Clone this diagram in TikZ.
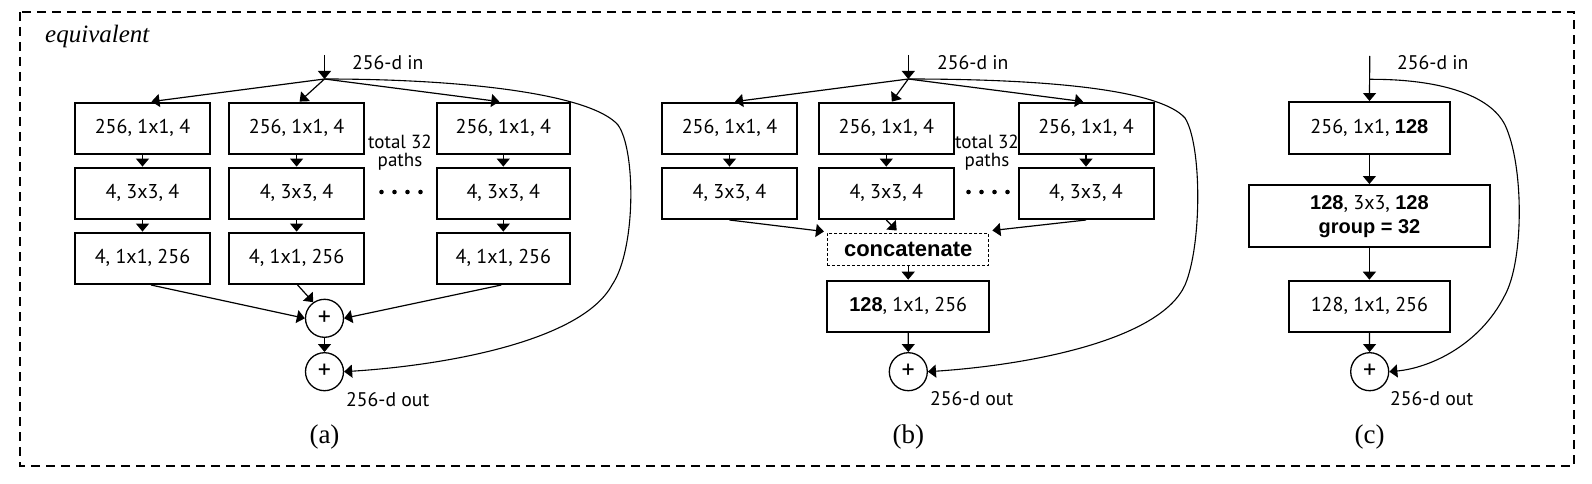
\documentclass[tikz,border=0pt]{standalone}
\usepackage{fontspec}
\setmainfont{Liberation Serif}
\newfontfamily\boxf{PT Sans}
\newfontfamily\boldf{Liberation Sans}
\newcommand{\bnum}[1]{{\boldf\bfseries #1}}
\usetikzlibrary{arrows.meta,calc}
\tikzset{
  box/.style={draw, line width=2pt, minimum width=135pt, minimum height=51.4pt, inner sep=0pt,
    font=\boxf\fontsize{20}{24}\selectfont},
  arr/.style={line width=1.2pt, -{Triangle[length=8pt,width=13pt]}},
  skip/.style={line width=1.1pt, -{Triangle[length=8pt,width=13pt]}},
  plus/.style={draw, circle, line width=1.3pt, minimum size=38pt, inner sep=0pt,
    font=\boxf\fontsize{26}{26}\selectfont},
  lbl/.style={font=\boxf\fontsize{19.7}{22}\selectfont, inner sep=0pt, anchor=base west},
  tot/.style={font=\boxf\fontsize{19}{20}\selectfont, inner sep=0pt, anchor=base},
  captxt/.style={font=\fontsize{27}{27}\selectfont, inner sep=0pt, anchor=base},
}
\begin{document}
\begin{tikzpicture}[x=1pt,y=-1pt]
\useasboundingbox (0,0) rectangle (1592,484);
\draw[dash pattern=on 9pt off 6pt, line width=1.2pt] (20,12) rectangle (1574,466);
\node[font=\itshape\fontsize{25}{25}\selectfont, anchor=base west, inner sep=0pt] (eq) at (45,42.5) {equivalent};

% ---------------- (a)
\coordinate (ain) at (324.5,55);
\coordinate (abr) at (324.5,79);
\node[lbl] (aintxt) at (352,70) {256-d in};
\node[box] (a11) at (142.5,128.3) {256, 1x1, 4};
\node[box] (a12) at (142.5,193.3) {4, 3x3, 4};
\node[box] (a13) at (142.5,258.3) {4, 1x1, 256};
\node[box] (a21) at (296.6,128.3) {256, 1x1, 4};
\node[box] (a22) at (296.6,193.3) {4, 3x3, 4};
\node[box] (a23) at (296.6,258.3) {4, 1x1, 256};
\node[box, minimum width=133pt] (a31) at (503.3,128.3) {256, 1x1, 4};
\node[box, minimum width=133pt] (a32) at (503.3,193.3) {4, 3x3, 4};
\node[box, minimum width=133pt] (a33) at (503.3,258.3) {4, 1x1, 256};
\node[tot] (atot) at (400,148) {total 32};
\node[tot] (apaths) at (400,166.7) {paths};
\foreach \dx in {-19.5,-6.5,6.5,19.5} \fill ({401+\dx},192) circle (2.3pt);
\node[plus] (ap1) at (324.5,318.3) {+};
\node[plus] (ap2) at (324.5,371.7) {+};
\node[lbl] (aout) at (346,406) {256-d out};
\node[captxt] (acap) at (324.5,443) {(a)};
\draw[arr] (ain) -- (abr);
\draw[arr] (abr) -- ([xshift=9pt]a11.north);
\draw[arr] (abr) -- ([xshift=3pt]a21.north);
\draw[arr] (abr) -- ([xshift=-4pt]a31.north);
\draw[arr] (a11) -- (a12);
\draw[arr] (a12) -- (a13);
\draw[arr] (a21) -- (a22);
\draw[arr] (a22) -- (a23);
\draw[arr] (a31) -- (a32);
\draw[arr] (a32) -- (a33);
\draw[arr] ([xshift=8.5pt]a13.south) -- (ap1.west);
\draw[arr] ([xshift=1pt]a23.south) -- (ap1.125);
\draw[arr] ([xshift=-2pt]a33.south) -- (ap1.east);
\draw[arr] (ap1) -- (ap2);
\draw[skip] (abr) .. controls (470,79) and (592,95) .. (618,125)
  .. controls (636,150) and (636,250) .. (612,285)
  .. controls (582,340) and (450,365) .. (ap2.east);

% ---------------- (b)
\coordinate (bin) at (908.3,55);
\coordinate (bbr) at (908.3,79);
\node[lbl] (bintxt) at (937,70) {256-d in};
\node[box] (b11) at (729.5,128.3) {256, 1x1, 4};
\node[box] (b12) at (729.5,193.3) {4, 3x3, 4};
\node[box] (b21) at (886.3,128.3) {256, 1x1, 4};
\node[box] (b22) at (886.3,193.3) {4, 3x3, 4};
\node[box] (b31) at (1086,128.3) {256, 1x1, 4};
\node[box] (b32) at (1086,193.3) {4, 3x3, 4};
\node[tot] (btot) at (987,148) {total 32};
\node[tot] (bpaths) at (987,166.7) {paths};
\foreach \dx in {-19.5,-6.5,6.5,19.5} \fill ({988+\dx},192) circle (2.3pt);
\node[draw, dash pattern=on 3pt off 2pt, line width=1pt, minimum width=161.5pt, minimum height=32pt,
  inner sep=0pt, font=\boldf\bfseries\fontsize{22}{22}\selectfont] (bcat) at (908.2,249) {concatenate};
\node[box, minimum width=161.5pt, minimum height=51pt] (b128) at (908.2,306.2) {\bnum{128}, 1x1, 256};
\node[plus] (bp) at (908.3,371.7) {+};
\node[lbl] (bout) at (930,405) {256-d out};
\node[captxt] (bcap) at (908.3,443) {(b)};
\draw[arr] (bin) -- (bbr);
\draw[arr] (bbr) -- ([xshift=5.5pt]b11.north);
\draw[arr] (bbr) -- ([xshift=5.5pt]b21.north);
\draw[arr] (bbr) -- ([xshift=-3pt]b31.north);
\draw[arr] (b11) -- (b12);
\draw[arr] (b21) -- (b22);
\draw[arr] (b31) -- (b32);
\draw[arr] (b12.south) -- ([xshift=-3pt,yshift=1pt]bcat.north west);
\draw[arr] (b22.south) -- ([xshift=-11.5pt,yshift=2pt]bcat.north);
\draw[arr] (b32.south) -- ([xshift=3pt,yshift=2pt]bcat.north east);
\draw[arr] (bcat) -- (b128);
\draw[arr] (b128) -- (bp);
\draw[skip] (bbr) .. controls (1050,79) and (1160,90) .. (1185,118)
  .. controls (1202,145) and (1202,245) .. (1185,285)
  .. controls (1160,340) and (1030,365) .. (bp.east);

% ---------------- (c)
\coordinate (cin) at (1369.7,56);
\coordinate (cbr) at (1369.7,79.3);
\node[lbl] (cintxt) at (1397,70) {256-d in};
\node[box, minimum width=161.8pt, minimum height=51.5pt] (c1) at (1369.4,127.8) {256, 1x1, \bnum{128}};
\node[box, minimum width=241pt, minimum height=62.3pt, align=center,
  font=\boxf\fontsize{20}{24}\selectfont] (c2) at (1369.4,216.2)
  {\bnum{128}, 3x3, \bnum{128}\\ \bnum{group = 32}};
\node[box, minimum width=161.8pt, minimum height=51pt] (c3) at (1369.4,306.2) {128, 1x1, 256};
\node[plus] (cp) at (1369.7,371.7) {+};
\node[lbl] (cout) at (1390,405) {256-d out};
\node[captxt] (ccap) at (1369.7,443) {(c)};
\draw[arr] (cin) -- (c1);
\draw[arr] (c1) -- (c2);
\draw[arr] (c2) -- (c3);
\draw[arr] (c3) -- (cp);
\draw[skip] (cbr) .. controls (1440,79) and (1490,95) .. (1505,125)
  .. controls (1524,165) and (1524,260) .. (1505,295)
  .. controls (1480,345) and (1430,368) .. (cp.east);
\end{tikzpicture}
\end{document}
